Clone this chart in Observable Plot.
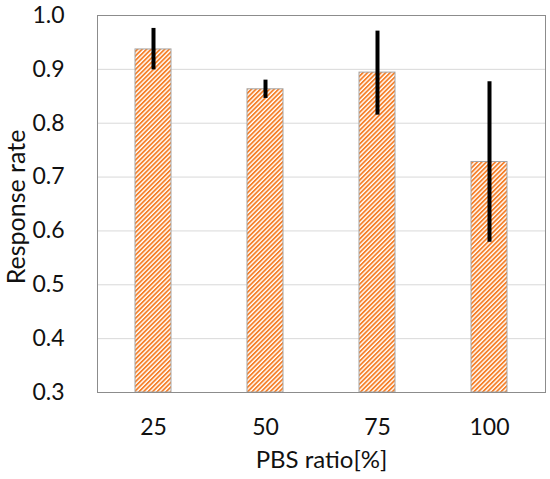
<!DOCTYPE html>
<html>
<head>
<meta charset="utf-8">
<script src="https://cdn.jsdelivr.net/npm/d3@7"></script>
<script src="https://cdn.jsdelivr.net/npm/@observablehq/plot@0.6"></script>
<style>
  html, body { margin: 0; padding: 0; background: #fff; }
  #chart { width: 550px; height: 479px; }
</style>
</head>
<body>
<div id="chart"></div>
<script>
const ratios = ["25", "50", "75", "100"];
const rates = [0.937, 0.863, 0.894, 0.728];
const errLow = [0.899, 0.846, 0.815, 0.579];
const errHigh = [0.976, 0.880, 0.971, 0.877];
const yTicks = [0.3, 0.4, 0.5, 0.6, 0.7, 0.8, 0.9, 1.0];

const data = ratios.map((r, i) => ({ratio: r, value: rates[i], lo: errLow[i], hi: errHigh[i]}));

const plot = Plot.plot({
  width: 550,
  height: 479,
  marginTop: 15,
  marginBottom: 87,
  marginLeft: 97,
  marginRight: 5,
  style: {fontFamily: "Lato, 'Open Sans', sans-serif", fontSize: "23px", color: "#111", background: "#fff"},
  x: {type: "band", domain: ratios, paddingInner: 0.68, paddingOuter: 0.34, label: null, tickSize: 0, tickPadding: 26},
  y: {domain: [0.3, 1.0], ticks: yTicks, tickFormat: d3.format(".1f"), label: null, tickSize: 0, tickPadding: 33},
  marks: [
    Plot.gridY(yTicks, {stroke: "#d9d9d9", strokeOpacity: 1}),
    Plot.barY(data, {x: "ratio", y1: 0.3, y2: "value", fill: "url(#hatch)", stroke: "#a6a6a6", strokeWidth: 1}),
    Plot.ruleX(data, {x: "ratio", y1: "lo", y2: "hi", stroke: "#000", strokeWidth: 4}),
    Plot.frame({stroke: "#8c8c8c", strokeWidth: 1}),
    Plot.text(["Response rate"], {frameAnchor: "left", textAnchor: "middle", lineAnchor: "middle", rotate: -90, dx: -81, dy: 3, fontSize: 25, fill: "#111"}),
    Plot.text(["PBS ratio[%]"], {frameAnchor: "bottom", textAnchor: "middle", lineAnchor: "middle", dy: 68, fontSize: 24, fill: "#111"})
  ]
});

const ns = "http://www.w3.org/2000/svg";
const defs = document.createElementNS(ns, "defs");
defs.innerHTML = `<pattern id="hatch" patternUnits="userSpaceOnUse" width="3.2" height="3.2" patternTransform="rotate(45)">
  <rect width="3.2" height="3.2" fill="#fff"></rect>
  <rect x="0" y="0" width="1.8" height="3.2" fill="#f5802a"></rect>
</pattern>`;
plot.insertBefore(defs, plot.firstChild);

document.getElementById("chart").appendChild(plot);
</script>
</body>
</html>
